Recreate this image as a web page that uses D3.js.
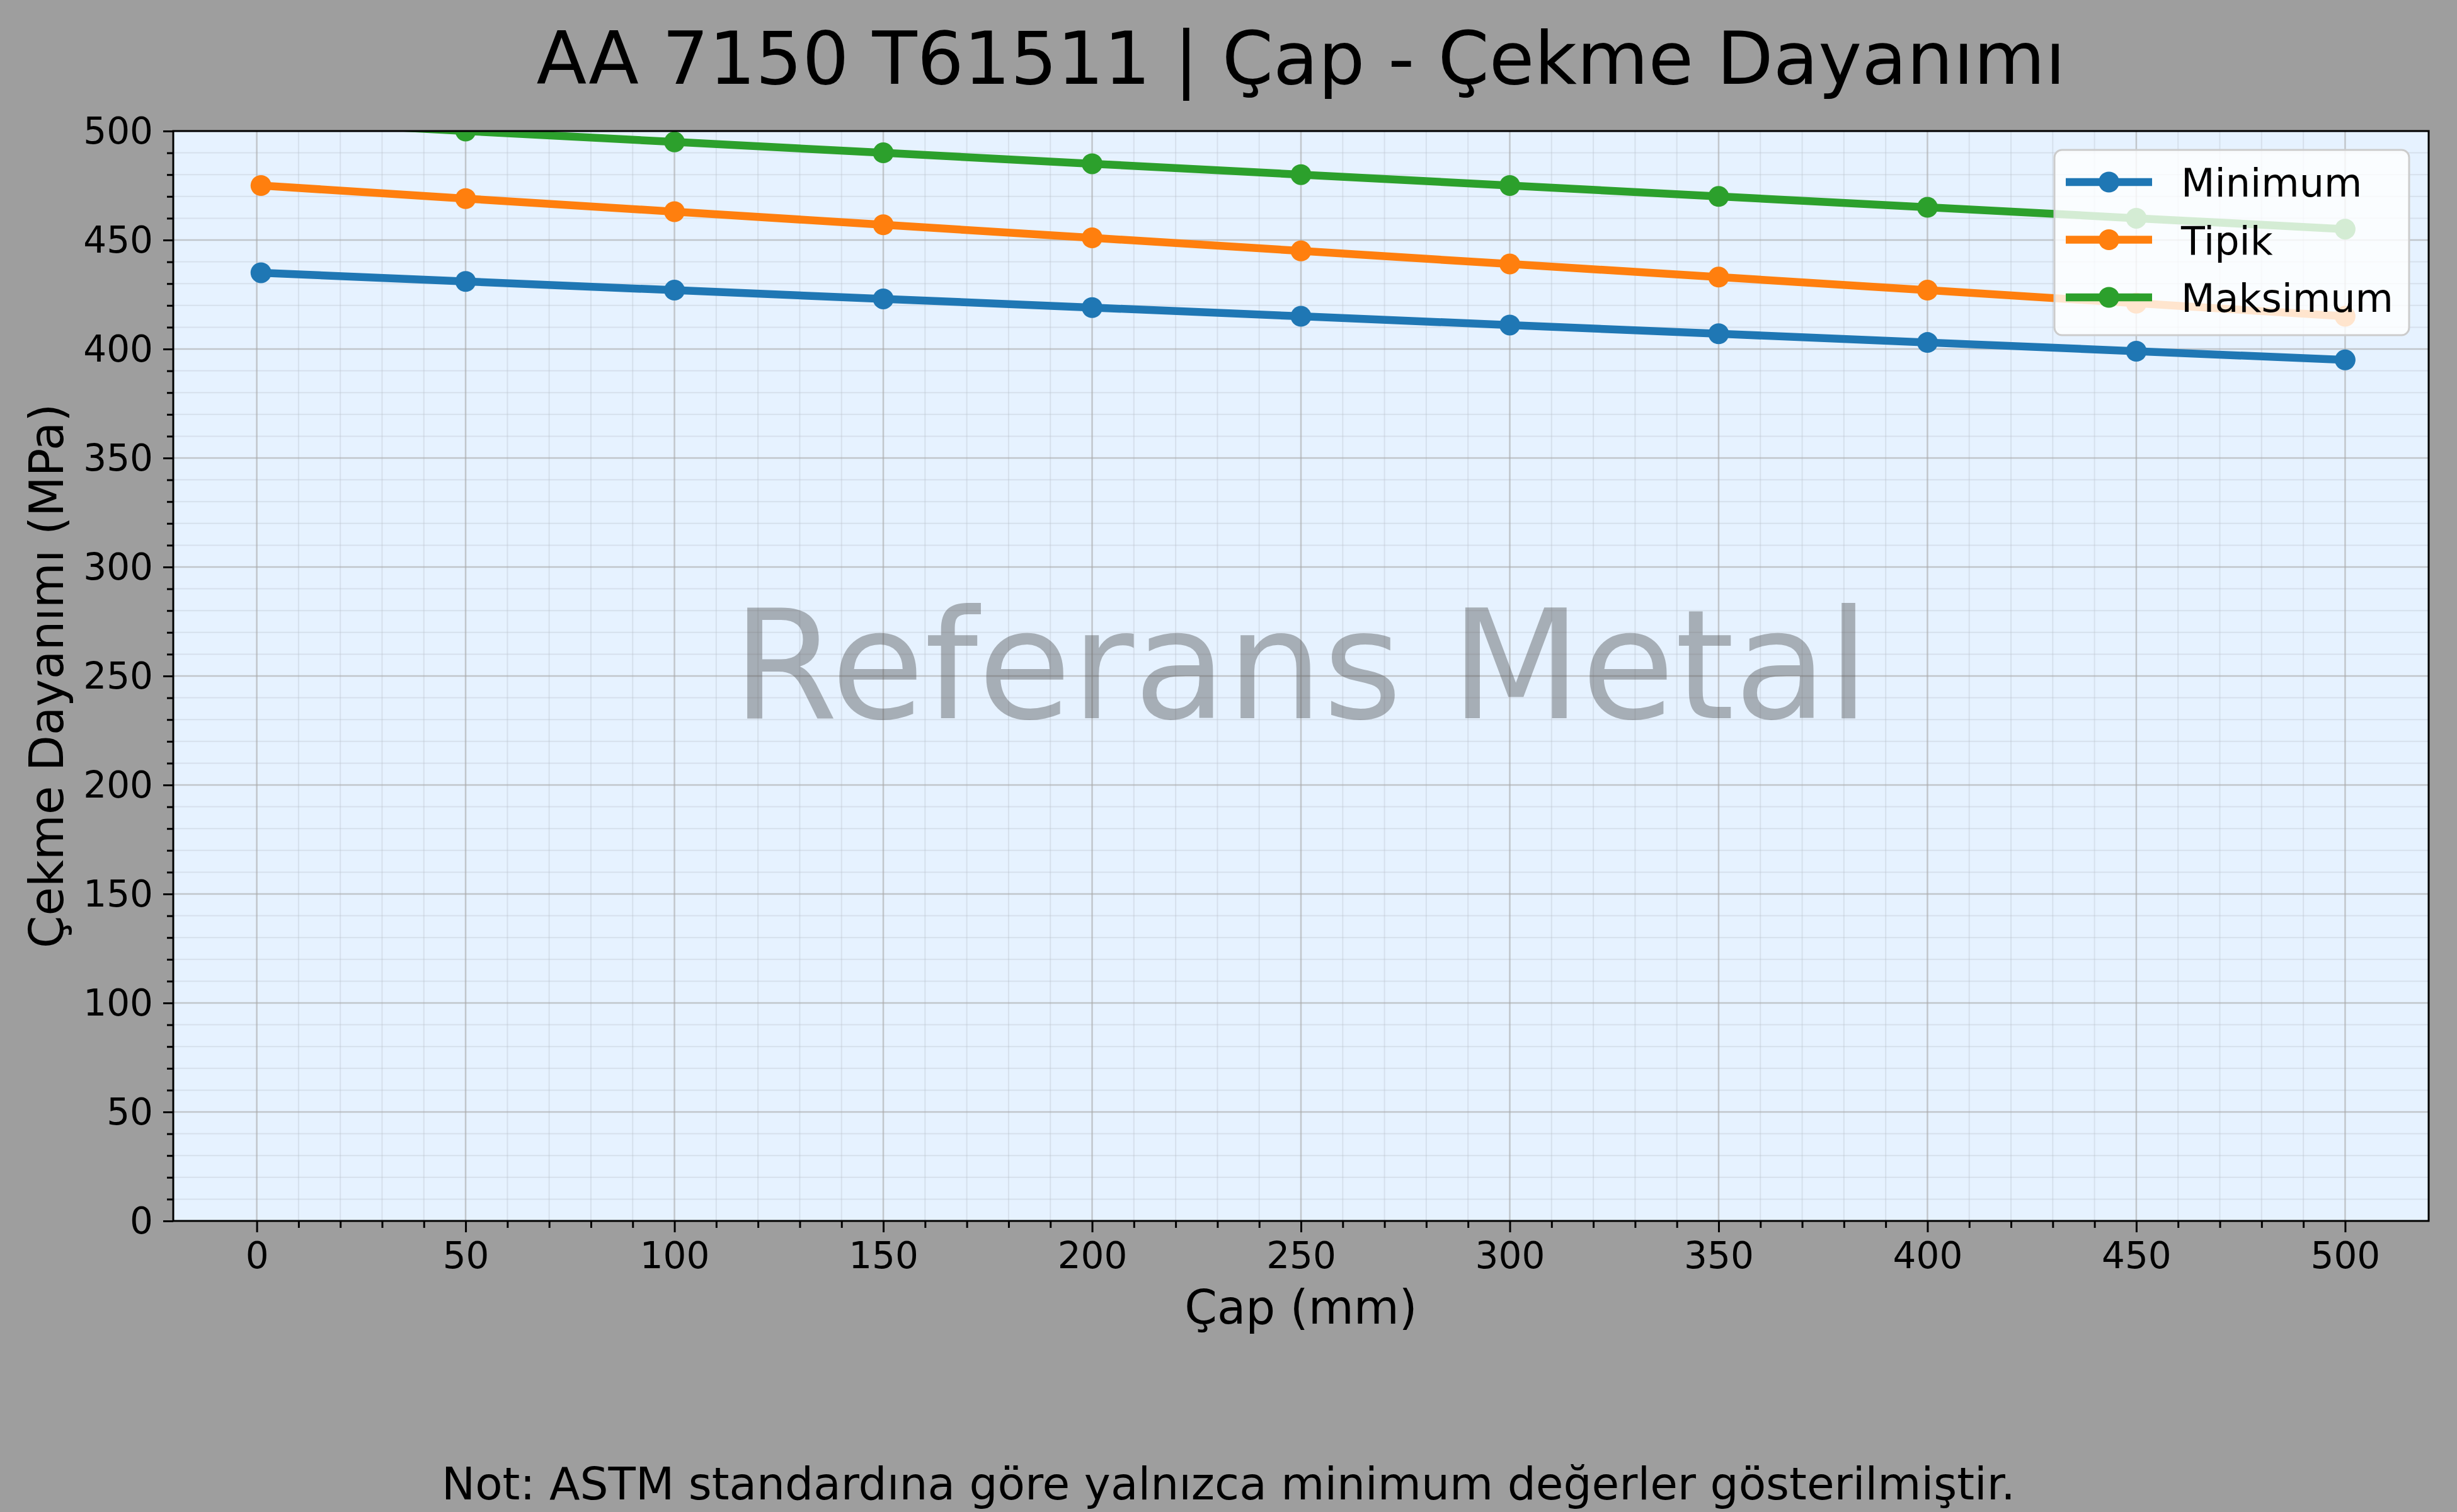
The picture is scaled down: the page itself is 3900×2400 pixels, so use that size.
<!DOCTYPE html>
<html>
<head>
<meta charset="utf-8">
<script src="https://cdn.jsdelivr.net/npm/d3@7"></script>
<style>
  html, body { margin: 0; padding: 0; background: #9e9e9e; }
  svg { display: block; font-family: "DejaVu Sans", sans-serif; }
</style>
</head>
<body>
<div id="chart"></div>
<script>
// ---------------- data ----------------
const diameters = [1, 50, 100, 150, 200, 250, 300, 350, 400, 450, 500];
const minimumValues = [435, 431, 427, 423, 419, 415, 411, 407, 403, 399, 395];
const typicalValues = [475, 469, 463, 457, 451, 445, 439, 433, 427, 421, 415];
const maximumValues = [505, 500, 495, 490, 485, 480, 475, 470, 465, 460, 455];
const seriesNames = ['Minimum', 'Tipik', 'Maksimum'];
const seriesColors = ['#1f77b4', '#ff7f0e', '#2ca02c'];
const xTicks = [0, 50, 100, 150, 200, 250, 300, 350, 400, 450, 500];
const yTicks = [0, 50, 100, 150, 200, 250, 300, 350, 400, 450, 500];

const titleText = 'AA 7150 T61511 | Çap - Çekme Dayanımı';
const xLabel = 'Çap (mm)';
const yLabel = 'Çekme Dayanımı (MPa)';
const noteText = 'Not: ASTM standardına göre yalnızca minimum değerler gösterilmiştir.';
const watermark = 'Referans Metal';

// ---------------- layout ----------------
const width = 3900;
const height = 2400;
const plotL = 275, plotR = 3855, plotT = 208, plotB = 1938;

const svg = d3.select('#chart').append('svg')
  .attr('width', width)
  .attr('height', height);

svg.append('rect')
  .attr('width', width).attr('height', height)
  .attr('fill', '#9e9e9e');

const x = d3.scaleLinear().domain([-20, 520]).range([plotL, plotR]);
const y = d3.scaleLinear().domain([0, 500]).range([plotB, plotT]);

// axes background
svg.append('rect')
  .attr('x', plotL).attr('y', plotT)
  .attr('width', plotR - plotL).attr('height', plotB - plotT)
  .attr('fill', '#e6f2ff');

svg.append('clipPath').attr('id', 'plotClip')
  .append('rect')
  .attr('x', plotL).attr('y', plotT)
  .attr('width', plotR - plotL).attr('height', plotB - plotT);

// ---------------- grid ----------------
const minorX = d3.range(0, 501, 10).filter(v => v % 50 !== 0);
const minorY = d3.range(0, 501, 10).filter(v => v % 50 !== 0);

const grid = svg.append('g').attr('clip-path', 'url(#plotClip)');
grid.selectAll('.minorX').data(minorX).join('line')
  .attr('x1', d => x(d)).attr('x2', d => x(d))
  .attr('y1', plotT).attr('y2', plotB)
  .attr('stroke', '#b8bfc8').attr('stroke-opacity', 0.35).attr('stroke-width', 2);
grid.selectAll('.minorY').data(minorY).join('line')
  .attr('y1', d => y(d)).attr('y2', d => y(d))
  .attr('x1', plotL).attr('x2', plotR)
  .attr('stroke', '#b8bfc8').attr('stroke-opacity', 0.35).attr('stroke-width', 2);
grid.selectAll('.majorX').data(xTicks).join('line')
  .attr('x1', d => x(d)).attr('x2', d => x(d))
  .attr('y1', plotT).attr('y2', plotB)
  .attr('stroke', '#a8a8a8').attr('stroke-opacity', 0.6).attr('stroke-width', 2.5);
grid.selectAll('.majorY').data(yTicks).join('line')
  .attr('y1', d => y(d)).attr('y2', d => y(d))
  .attr('x1', plotL).attr('x2', plotR)
  .attr('stroke', '#a8a8a8').attr('stroke-opacity', 0.6).attr('stroke-width', 2.5);

// ---------------- watermark ----------------
svg.append('text')
  .attr('x', (plotL + plotR) / 2)
  .attr('y', 1140)
  .attr('text-anchor', 'middle')
  .attr('font-size', '241px')
  .attr('fill', '#404040')
  .attr('fill-opacity', 0.385)
  .text(watermark);

// ---------------- lines ----------------
const series = [minimumValues, typicalValues, maximumValues].map((vals, i) => ({
  name: seriesNames[i],
  color: seriesColors[i],
  points: diameters.map((d, j) => ({ x: d, y: vals[j] }))
}));

const line = d3.line().x(d => x(d.x)).y(d => y(d.y));
const plot = svg.append('g').attr('clip-path', 'url(#plotClip)');

series.forEach(s => {
  const g = plot.append('g');
  g.append('path')
    .datum(s.points)
    .attr('d', line)
    .attr('fill', 'none')
    .attr('stroke', s.color)
    .attr('stroke-width', 12.5)
    .attr('stroke-linejoin', 'round');
  g.selectAll('circle').data(s.points).join('circle')
    .attr('cx', d => x(d.x))
    .attr('cy', d => y(d.y))
    .attr('r', 16.5)
    .attr('fill', s.color);
});

// ---------------- axes ----------------
const xAxis = svg.append('g')
  .attr('transform', `translate(0,${plotB})`)
  .call(d3.axisBottom(x).tickValues(xTicks).tickSize(18).tickPadding(16).tickFormat(d3.format('d')));
const xMinor = svg.append('g')
  .attr('transform', `translate(0,${plotB})`)
  .call(d3.axisBottom(x).tickValues(minorX).tickSize(11).tickFormat(''));
const yAxis = svg.append('g')
  .attr('transform', `translate(${plotL},0)`)
  .call(d3.axisLeft(y).tickValues(yTicks).tickSize(16).tickPadding(16).tickFormat(d3.format('d')));
const yMinor = svg.append('g')
  .attr('transform', `translate(${plotL},0)`)
  .call(d3.axisLeft(y).tickValues(minorY).tickSize(10).tickFormat(''));

[xAxis, xMinor, yAxis, yMinor].forEach(a => {
  a.select('.domain').remove();
  a.selectAll('line').attr('stroke', '#000').attr('stroke-width', 3);
  a.selectAll('text')
    .attr('font-size', '58px')
    .attr('font-family', '"DejaVu Sans", sans-serif')
    .attr('fill', '#000');
});
xAxis.selectAll('text').attr('dy', '0.71em');
yAxis.selectAll('text').attr('dy', '0.34em');

// spines
svg.append('rect')
  .attr('x', plotL).attr('y', plotT)
  .attr('width', plotR - plotL).attr('height', plotB - plotT)
  .attr('fill', 'none')
  .attr('stroke', '#000')
  .attr('stroke-width', 3);

// ---------------- legend ----------------
const legend = svg.append('g');
legend.append('rect')
  .attr('x', 3261).attr('y', 238)
  .attr('width', 3824 - 3261).attr('height', 532 - 238)
  .attr('rx', 12).attr('ry', 12)
  .attr('fill', '#ffffff').attr('fill-opacity', 0.8)
  .attr('stroke', '#cccccc').attr('stroke-width', 3);

const rowY = d3.scalePoint().domain(seriesNames).range([289, 472]);
series.forEach(s => {
  const ly = rowY(s.name);
  legend.append('line')
    .attr('x1', 3279).attr('x2', 3416)
    .attr('y1', ly).attr('y2', ly)
    .attr('stroke', s.color).attr('stroke-width', 12.5);
  legend.append('circle')
    .attr('cx', 3347.5).attr('cy', ly).attr('r', 16.5)
    .attr('fill', s.color);
  legend.append('text')
    .attr('x', 3462).attr('y', ly + 23)
    .attr('font-size', '62px')
    .attr('fill', '#000')
    .text(s.name);
});

// ---------------- texts ----------------
svg.append('text')
  .attr('x', (plotL + plotR) / 2).attr('y', 133)
  .attr('text-anchor', 'middle')
  .attr('font-size', '116.5px')
  .attr('fill', '#000')
  .text(titleText);

svg.append('text')
  .attr('x', (plotL + plotR) / 2).attr('y', 2101)
  .attr('text-anchor', 'middle')
  .attr('font-size', '74px')
  .attr('fill', '#000')
  .text(xLabel);

svg.append('text')
  .attr('transform', `translate(100,${(plotT + plotB) / 2}) rotate(-90)`)
  .attr('text-anchor', 'middle')
  .attr('font-size', '74px')
  .attr('fill', '#000')
  .text(yLabel);

svg.append('text')
  .attr('x', width / 2).attr('y', 2380)
  .attr('text-anchor', 'middle')
  .attr('font-size', '71px')
  .attr('fill', '#000')
  .text(noteText);
</script>
</body>
</html>
